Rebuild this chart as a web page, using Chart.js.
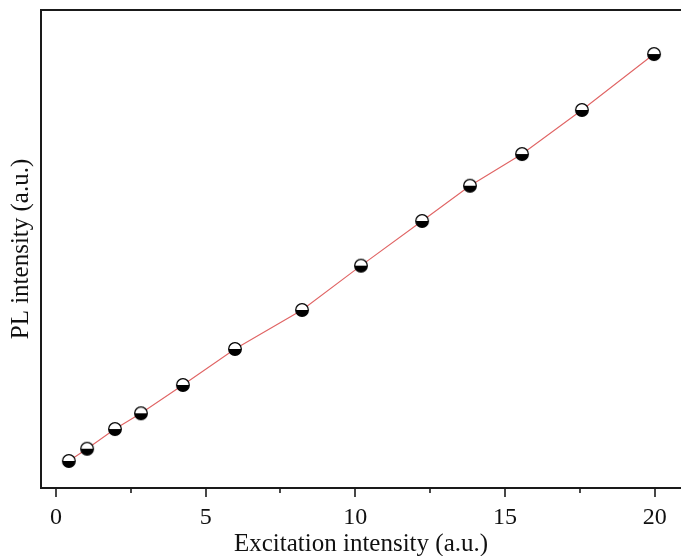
<!DOCTYPE html>
<html>
<head>
<meta charset="utf-8">
<script src="https://cdn.jsdelivr.net/npm/chart.js@4/dist/chart.umd.min.js"></script>
<style>
  html, body { margin: 0; padding: 0; background: #fff; overflow: hidden; }
  #wrap { width: 681px; height: 556px; }
</style>
</head>
<body>
<div id="wrap"><canvas id="c" width="681" height="556"></canvas></div>
<script>
// Excitation intensity (a.u.)
const excitation = [0.43, 1.04, 1.97, 2.84, 4.24, 5.98, 8.22, 10.19, 12.23, 13.83, 15.57, 17.57, 19.98];
// PL intensity (a.u.)
const plIntensity = [5.65, 8.22, 12.34, 15.63, 21.55, 29.08, 37.24, 46.51, 55.86, 63.24, 69.87, 79.08, 90.79];
// x-axis tick positions and which of them carry labels
const xTicks = [0, 2.5, 5, 7.5, 10, 12.5, 15, 17.5, 20];
const xLabels = [0, 5, 10, 15, 20];

const serif = "'Liberation Serif', 'Times New Roman', serif";

// half-filled circle marker: white upper half, black lower half
function halfMarker(r) {
  const size = Math.ceil(r * 2 + 3);
  const cv = document.createElement('canvas');
  cv.width = size; cv.height = size;
  const g = cv.getContext('2d');
  const c = size / 2;
  g.beginPath(); g.arc(c, c, r, Math.PI, 2 * Math.PI); g.closePath();
  g.fillStyle = '#ffffff'; g.fill();
  g.beginPath(); g.arc(c, c, r, 0, Math.PI); g.closePath();
  g.fillStyle = '#000000'; g.fill();
  g.beginPath(); g.arc(c, c, r, 0, 2 * Math.PI);
  g.lineWidth = 1.3; g.strokeStyle = '#000000'; g.stroke();
  return cv;
}
const marker = halfMarker(6.3);

const points = excitation.map((x, i) => ({ x: x, y: plIntensity[i] }));

// frame top edge and outward tick marks on the bottom axis
const frameAndTicks = {
  id: 'frameAndTicks',
  afterDraw(chart) {
    const ctx = chart.ctx;
    const a = chart.chartArea;
    const xs = chart.scales.x;
    ctx.save();
    ctx.strokeStyle = '#1a1a1a';
    ctx.lineWidth = 2;
    ctx.beginPath();
    ctx.moveTo(a.left - 1, a.top);
    ctx.lineTo(a.right + 2, a.top);
    ctx.stroke();
    ctx.lineWidth = 1.6;
    xTicks.forEach(v => {
      const px = Math.round(xs.getPixelForValue(v));
      const len = xLabels.includes(v) ? 9 : 5;
      ctx.beginPath();
      ctx.moveTo(px, a.bottom);
      ctx.lineTo(px, a.bottom + len);
      ctx.stroke();
    });
    ctx.restore();
  }
};

new Chart(document.getElementById('c'), {
  type: 'scatter',
  data: {
    datasets: [{
      data: points,
      showLine: true,
      borderColor: '#e06464',
      borderWidth: 1.1,
      pointStyle: marker,
      pointRadius: 6,
      pointHoverRadius: 6,
      tension: 0
    }]
  },
  options: {
    responsive: false,
    animation: false,
    events: [],
    layout: { autoPadding: false, padding: { top: 10, right: 0, left: 0, bottom: 0 } },
    plugins: { legend: { display: false }, tooltip: { enabled: false } },
    scales: {
      x: {
        type: 'linear',
        min: -0.5,
        max: 20.88,
        afterBuildTicks: s => { s.ticks = xTicks.map(v => ({ value: v })); },
        afterFit: s => { s.height = 68; s.paddingLeft = 0; s.paddingRight = 0; },
        grid: { display: false },
        border: { display: true, color: '#1a1a1a', width: 2 },
        ticks: {
          padding: 7,
          color: '#111',
          font: { family: serif, size: 24 },
          maxRotation: 0,
          autoSkip: false,
          callback: v => (xLabels.includes(v) ? String(v) : '')
        },
        title: {
          display: true,
          text: 'Excitation intensity (a.u.)',
          color: '#111',
          font: { family: serif, size: 25 },
          padding: { top: 0, bottom: -3 }
        }
      },
      y: {
        type: 'linear',
        min: 0,
        max: 100,
        afterFit: s => { s.width = 41; },
        grid: { display: false },
        border: { display: true, color: '#1a1a1a', width: 2 },
        ticks: { display: false },
        title: {
          display: true,
          text: 'PL intensity (a.u.)',
          color: '#111',
          font: { family: serif, size: 25 },
          padding: { top: 6, bottom: 0 }
        }
      }
    }
  },
  plugins: [frameAndTicks]
});
</script>
</body>
</html>
